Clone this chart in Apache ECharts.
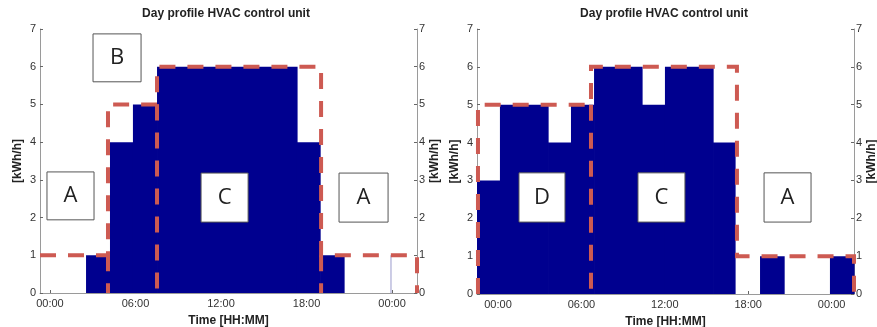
<!DOCTYPE html>
<html><head><meta charset="utf-8">
<script src="https://cdn.jsdelivr.net/npm/echarts@6/dist/echarts.min.js"></script>
<style>html,body{margin:0;padding:0;background:#fff}#c{width:877px;height:327px}</style>
</head><body><div id="c"></div>
<script>
// ---- data (hours on x, kWh/h on y) ----
const titleText = 'Day profile HVAC control unit';
const xName = 'Time [HH:MM]';
const yName = '[kWh/h]';
const tickHours = [0, 6, 12, 18, 24];
const tickLabels = ['00:00', '06:00', '12:00', '18:00', '00:00'];

const leftEdges = [2.53, 4.21, 5.82, 7.51, 17.33, 18.95, 20.63];
const leftValues = [1, 4, 5, 6, 4, 1];
const leftThinEdges = [23.89, 23.96];
const leftThinValues = [1];

const rightEdges = [-1.51, 0.14, 3.60, 5.25, 6.91, 10.36, 12.01, 15.47, 17.05, 18.85, 20.58, 23.88, 25.61];
const rightValues = [3, 5, 4, 5, 6, 5, 6, 4, 0, 1, 0, 1];

const leftBoundary = [[-0.7, 1], [4.07, 1], [4.07, 5], [7.51, 5], [7.51, 6], [19.02, 6], [19.02, 1], [25.75, 1], [25.75, 0]];
const leftDividers = [[4.07, 1], [7.51, 5], [19.02, 1]];   // [x, top] down to 0
const rightBoundary = [[-1.44, 0], [-1.44, 5], [6.69, 5], [6.69, 6], [17.19, 6], [17.19, 1], [25.61, 1], [25.61, 0]];
const rightDividers = [[6.69, 5]];

const leftBoxLabels = ['A', 'B', 'C', 'A'];
const leftBoxX = [[-0.21, 3.09], [3.02, 6.39], [10.6, 13.9], [20.28, 23.72]];
const leftBoxY = [[1.94, 3.21], [5.6, 6.87], [1.88, 3.18], [1.88, 3.18]];
const rightBoxLabels = ['D', 'C', 'A'];
const rightBoxX = [[1.51, 4.82], [10.07, 13.45], [19.14, 22.52]];
const rightBoxY = [[1.9, 3.2], [1.9, 3.2], [1.9, 3.2]];

const xRanges = [[-0.7, 25.75], [-1.51, 25.61]];

// ---- styles ----
const FONT = 'Liberation Sans';
const BAR = '#00008f';
const RED = '#cd5a52';
const AXIS = '#9a9a9a';

function steps(edges, values) {
  return values.map((v, i) => [edges[i], edges[i + 1], v]);
}
function barRenderer(color, pad) {
  return function (params, api) {
    const s = api.value(0), e = api.value(1), v = api.value(2);
    const p0 = api.coord([s, v]);
    const p1 = api.coord([e, 0]);
    return {
      type: 'rect',
      shape: { x: p0[0], y: p0[1], width: p1[0] - p0[0] + pad, height: p1[1] - p0[1] },
      style: { fill: color }
    };
  };
}
function dashed(data, idx) {
  return {
    type: 'line', xAxisIndex: idx, yAxisIndex: idx * 2, data: data,
    symbol: 'none', clip: false, z: 6, animation: false,
    lineStyle: { color: RED, width: 4, type: [16, 12], cap: 'butt', join: 'miter' }
  };
}
function boxes(labels, xs, ys, idx) {
  return {
    type: 'line', xAxisIndex: idx, yAxisIndex: idx * 2, data: [], z: 4,
    markArea: {
      silent: true, z: 4,
      itemStyle: { color: '#ffffff', borderColor: '#555', borderWidth: 1 },
      label: { show: true, position: 'inside', fontSize: 22, fontFamily: 'Open Sans', color: '#222' },
      data: labels.map((l, i) => [
        { name: l, coord: [xs[i][0], ys[i][1]] },
        { coord: [xs[i][1], ys[i][0]] }
      ])
    }
  };
}

const grids = [
  { left: 40, top: 29, width: 377, height: 264, outerBoundsMode: 'none', containLabel: false },
  { left: 477, top: 29, width: 377, height: 265, outerBoundsMode: 'none', containLabel: false }
];

const xAxes = xRanges.map((r, i) => ({
  type: 'value', gridIndex: i, min: r[0], max: r[1],
  name: xName, nameLocation: 'middle', nameGap: 22,
  nameTextStyle: { fontFamily: FONT, fontSize: 12, fontWeight: 'bold', color: '#222' },
  axisLine: { show: true, onZero: false, lineStyle: { color: AXIS, width: 1 } },
  axisTick: { show: true, inside: true, length: 3, customValues: tickHours, lineStyle: { color: '#666' } },
  axisLabel: {
    customValues: tickHours, margin: 5, fontFamily: FONT, fontSize: 11, color: '#333',
    formatter: v => tickLabels[tickHours.indexOf(Math.round(v))] || ''
  },
  splitLine: { show: false }
}));

const yAxes = [];
[0, 1].forEach(i => {
  ['left', 'right'].forEach(pos => {
    yAxes.push({
      type: 'value', gridIndex: i, position: pos, min: 0, max: 7, interval: 1,
      name: yName, nameLocation: 'middle', nameRotate: 90,
      nameGap: pos === 'left' ? 16 : 10,
      nameTextStyle: { fontFamily: FONT, fontSize: 12, fontWeight: 'bold', color: '#222' },
      axisLine: { show: true, onZero: false, lineStyle: { color: AXIS, width: 1 } },
      axisTick: { show: true, inside: true, length: 3, lineStyle: { color: '#666' } },
      axisLabel: { margin: pos === 'left' ? 4 : 2, fontFamily: FONT, fontSize: 11, color: '#333' },
      splitLine: { show: false }
    });
  });
});

const series = [
  { type: 'custom', xAxisIndex: 0, yAxisIndex: 0, renderItem: barRenderer(BAR, 0.6), data: steps(leftEdges, leftValues), encode: { x: [0, 1], y: 2 }, z: 2 },
  { type: 'custom', xAxisIndex: 0, yAxisIndex: 0, renderItem: barRenderer('#9a9acc', 0), data: steps(leftThinEdges, leftThinValues), encode: { x: [0, 1], y: 2 }, z: 2 },
  { type: 'custom', xAxisIndex: 1, yAxisIndex: 2, renderItem: barRenderer(BAR, 0.6), data: steps(rightEdges, rightValues), encode: { x: [0, 1], y: 2 }, z: 2 },
  boxes(leftBoxLabels, leftBoxX, leftBoxY, 0),
  boxes(rightBoxLabels, rightBoxX, rightBoxY, 1),
  dashed(leftBoundary, 0),
  ...leftDividers.map(d => dashed([[d[0], d[1]], [d[0], 0]], 0)),
  dashed(rightBoundary, 1),
  ...rightDividers.map(d => dashed([[d[0], d[1]], [d[0], 0]], 1))
];

const chart = echarts.init(document.getElementById('c'), null, { renderer: 'canvas' });
chart.setOption({
  animation: false,
  backgroundColor: '#fff',
  title: [
    { text: titleText, left: 221, top: 3, textAlign: 'center', textStyle: { fontFamily: FONT, fontSize: 12, fontWeight: 'bold', color: '#222' } },
    { text: titleText, left: 659, top: 3, textAlign: 'center', textStyle: { fontFamily: FONT, fontSize: 12, fontWeight: 'bold', color: '#222' } }
  ],
  grid: grids,
  xAxis: xAxes,
  yAxis: yAxes,
  series: series
});
</script></body></html>
